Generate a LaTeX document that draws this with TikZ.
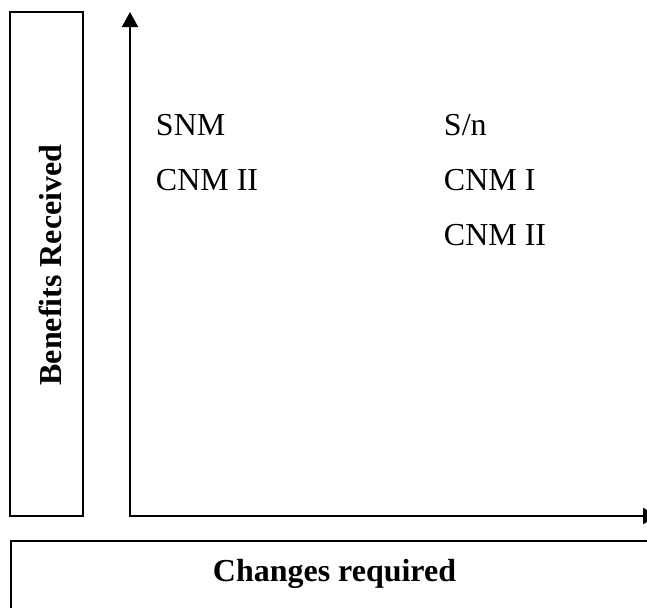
\documentclass[tikz,border=0pt]{standalone}
\usepackage{fontspec}
\setmainfont{Liberation Serif}
\usetikzlibrary{arrows.meta,positioning}

\begin{document}
\begin{tikzpicture}[line width=1.1pt,
  frame/.style={draw,line width=1.1pt,inner sep=0pt},
  axislbl/.style={font=\fontsize{18.2}{22}\selectfont\bfseries,inner sep=0pt},
  item/.style={anchor=base west,font=\fontsize{18.2}{22}\selectfont,inner sep=0pt}]
  \useasboundingbox (0,0) rectangle (12.94,12.14);
  % side and bottom boxes
  \node[frame,minimum width=1.46cm,minimum height=10.08cm] (benbox) at (0.93,6.86) {};
  \node[frame,anchor=north west,minimum width=13.5cm,minimum height=2cm] (chgbox) at (0.2,1.34) {};
  \node[axislbl,rotate=90,anchor=base] (benlbl) at (1.234,6.84) {Benefits Received};
  \node[axislbl,anchor=base] (chglbl) at (6.69,0.52) {Changes required};
  % axes
  \coordinate (o) at (2.6,1.82);
  \coordinate (ytip) at (2.6,11.9);
  \coordinate (xtip) at (13.16,1.82);
  \draw[{Triangle[length=0.3cm,width=0.32cm]}-{Triangle[length=0.3cm,width=0.32cm]}] (ytip) -- (o) -- (xtip);
  % entries
  \node[item] (snm) at (3.1,9.43) {SNM};
  \node[item] (cnm2a) at (3.1,8.33) {CNM II};
  \node[item] (sn) at (8.86,9.43) {S/n};
  \node[item] (cnm1) at (8.86,8.33) {CNM I};
  \node[item] (cnm2b) at (8.86,7.23) {CNM II};
\end{tikzpicture}
\end{document}
